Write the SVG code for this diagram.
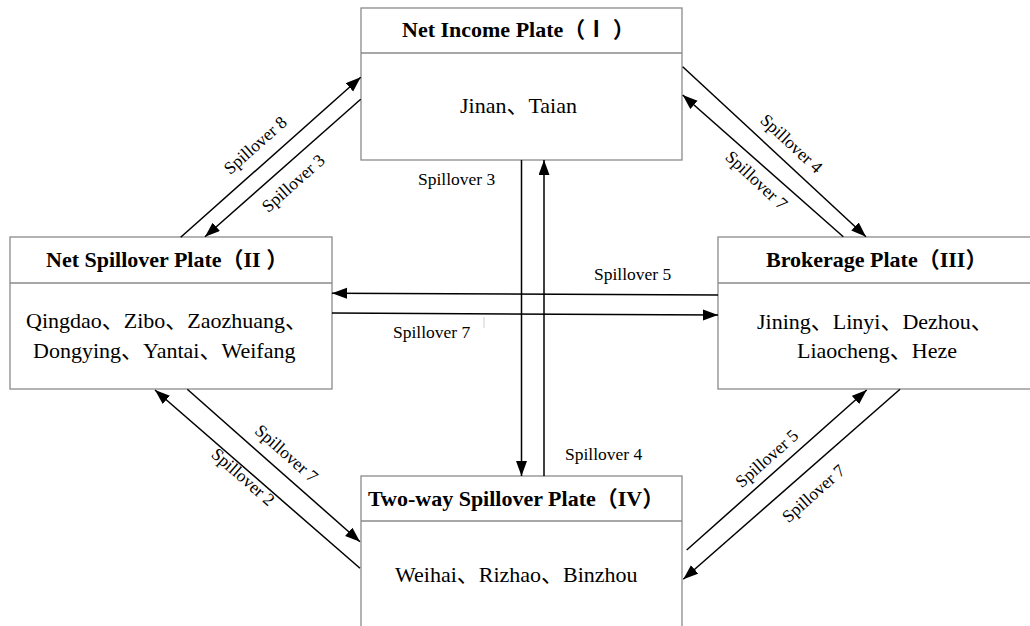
<svg xmlns="http://www.w3.org/2000/svg" width="1030" height="626" viewBox="0 0 1030 626">
<style>
.box{fill:#fff;stroke:#8a8a8a;stroke-width:1.3}
.div{stroke:#8a8a8a;stroke-width:1.3}
.title{font-family:"Liberation Serif","Noto Sans CJK SC",serif;font-weight:bold;font-size:22px;fill:#000}
.body{font-family:"Liberation Serif","Noto Sans CJK SC",serif;font-size:22px;fill:#000}
.lbl{font-family:"Liberation Serif",serif;font-size:17.5px;fill:#000}
.rl{font-family:"Liberation Serif",serif;font-size:17.5px;fill:#000;text-anchor:middle}
.c{stroke:#000;stroke-width:1.5;fill:none;marker-end:url(#ah)}
</style>
<defs>
<marker id="ah" markerUnits="userSpaceOnUse" markerWidth="16" markerHeight="12" refX="15" refY="5.5" orient="auto">
<path d="M0,0 L15,5.5 L0,11 z" fill="#000"/>
</marker>
</defs>
<rect width="1030" height="626" fill="#fff"/>

<g id="node-I">
<rect class="box" x="361" y="8" width="321" height="152"/>
<line class="div" x1="361" y1="53" x2="682" y2="53"/>
<text class="title" x="402" y="37">Net Income Plate（Ⅰ ）</text>
<text class="body" x="460" y="113">Jinan、Taian</text>
</g>

<g id="node-II">
<rect class="box" x="10" y="237" width="322" height="152"/>
<line class="div" x1="10" y1="283" x2="332" y2="283"/>
<text class="title" x="46" y="267">Net Spillover Plate（II ）</text>
<text class="body" x="26" y="328">Qingdao、Zibo、Zaozhuang、</text>
<text class="body" x="33" y="358">Dongying、Yantai、Weifang</text>
</g>

<g id="node-III">
<rect class="box" x="718" y="237" width="330" height="152"/>
<line class="div" x1="718" y1="283" x2="1048" y2="283"/>
<text class="title" x="766" y="267">Brokerage Plate（III）</text>
<text class="body" x="757" y="329">Jining、Linyi、Dezhou、</text>
<text class="body" x="797" y="358">Liaocheng、Heze</text>
</g>

<g id="node-IV">
<rect class="box" x="361" y="476" width="321" height="170"/>
<line class="div" x1="361" y1="521" x2="682" y2="521"/>
<text class="title" x="368" y="506">Two-way Spillover Plate（IV）</text>
<text class="body" x="395" y="582">Weihai、Rizhao、Binzhou</text>
</g>

<g id="connectors">
<line class="c" x1="521.5" y1="160" x2="521.5" y2="476"/>
<line class="c" x1="544" y1="476" x2="544" y2="160"/>
<line class="c" x1="718" y1="295" x2="332" y2="293.3"/>
<line class="c" x1="332" y1="313" x2="718" y2="315"/>
<line class="c" x1="180.7" y1="237.3" x2="360.7" y2="77.3"/>
<line class="c" x1="360.7" y1="99.3" x2="205" y2="236.7"/>
<line class="c" x1="682.7" y1="66.7" x2="866" y2="236.7"/>
<line class="c" x1="843.3" y1="236.7" x2="682.7" y2="95"/>
<line class="c" x1="187.3" y1="389.3" x2="360" y2="541.7"/>
<line class="c" x1="360" y1="568.3" x2="155" y2="390"/>
<line class="c" x1="686.7" y1="550" x2="866.7" y2="390"/>
<line class="c" x1="900" y1="389.3" x2="683.3" y2="579.3"/>
<line x1="484" y1="317" x2="484" y2="328" stroke="#cfcfcf" stroke-width="1"/>
<text class="lbl" x="418" y="185">Spillover 3</text>
<text class="lbl" x="565" y="460">Spillover 4</text>
<text class="lbl" x="594" y="280">Spillover 5</text>
<text class="lbl" x="393" y="338">Spillover 7</text>
<text class="rl" x="255" y="145" dy="0.35em" transform="rotate(-41.6 255 145)">Spillover 8</text>
<text class="rl" x="293" y="183" dy="0.35em" transform="rotate(-41.6 293 183)">Spillover 3</text>
<text class="rl" x="791.7" y="143.3" dy="0.35em" transform="rotate(42.9 791.7 143.3)">Spillover 4</text>
<text class="rl" x="756.7" y="180" dy="0.35em" transform="rotate(42.9 756.7 180)">Spillover 7</text>
<text class="rl" x="286.7" y="453.3" dy="0.35em" transform="rotate(41.4 286.7 453.3)">Spillover 7</text>
<text class="rl" x="243.3" y="476.7" dy="0.35em" transform="rotate(41.4 243.3 476.7)">Spillover 2</text>
<text class="rl" x="766.7" y="458.3" dy="0.35em" transform="rotate(-41.6 766.7 458.3)">Spillover 5</text>
<text class="rl" x="813.3" y="493.3" dy="0.35em" transform="rotate(-41.6 813.3 493.3)">Spillover 7</text>
</g>
</svg>
